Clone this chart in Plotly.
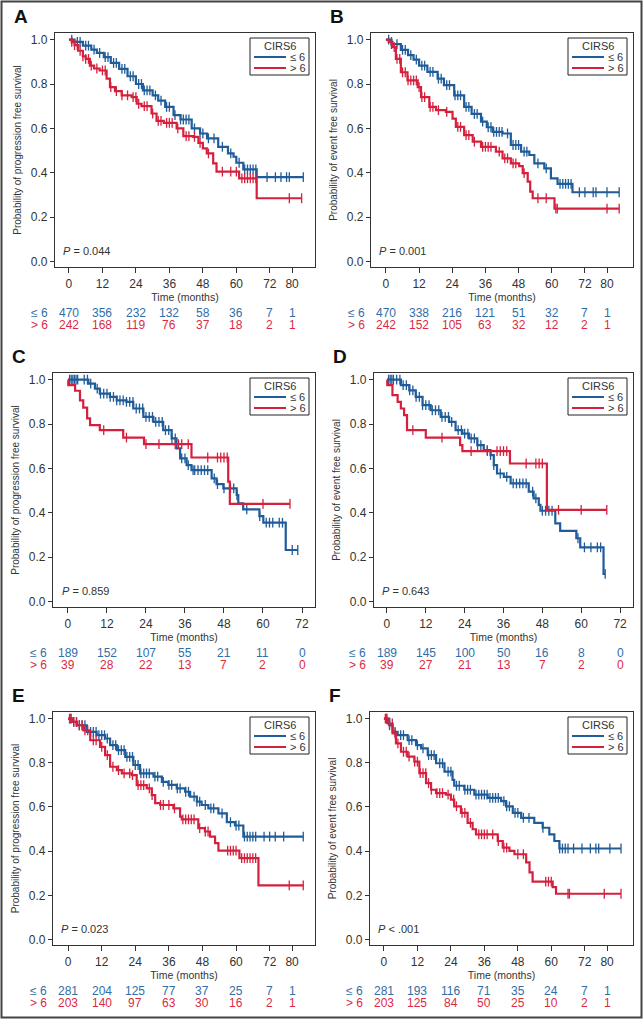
import numpy as np
import plotly.graph_objects as go

# --- data ---
ticks_long = [0, 12, 24, 36, 48, 60, 72, 80]
ticks_short = [0, 12, 24, 36, 48, 60, 72]
groups = ["\u2264 6", "> 6"]

# A: progression free survival, all patients
a_low_t = [0, 2, 5, 8, 10, 12.5, 15, 18, 21, 24, 26.5, 30, 32, 34.5, 37.5, 40, 44, 47, 49.5, 53.5, 57, 59, 60, 62.5, 67.3, 84]
a_low_s = [1.0, 0.99, 0.973, 0.955, 0.94, 0.921, 0.895, 0.868, 0.835, 0.80, 0.771, 0.749, 0.725, 0.697, 0.66, 0.64, 0.60, 0.577, 0.555, 0.517, 0.487, 0.472, 0.445, 0.415, 0.38, 0.38]
a_low_c = [1, 3, 4, 6, 7, 9, 11, 13, 14, 16, 17, 19, 20, 22, 23, 25, 26, 27, 28, 29, 31, 33, 35, 36, 38, 40, 41, 42, 43, 45, 47, 48, 50, 52, 55, 58, 61, 63, 64, 65, 66, 67, 71, 74, 76, 78, 79, 84]
a_high_t = [0, 1, 2, 3.3, 5, 6, 7.5, 9, 11, 13.5, 14.7, 16.5, 18.9, 22.5, 24.3, 26, 29.6, 31.4, 34, 38.6, 41, 44.6, 46.4, 48, 49.4, 51.7, 52.9, 61, 67.3, 83.4]
a_high_s = [1.0, 0.99, 0.975, 0.95, 0.925, 0.913, 0.883, 0.87, 0.861, 0.824, 0.786, 0.768, 0.749, 0.741, 0.711, 0.70, 0.667, 0.634, 0.625, 0.60, 0.565, 0.562, 0.535, 0.51, 0.487, 0.442, 0.405, 0.375, 0.285, 0.285]
a_high_c = [1, 2, 3, 4, 5, 6, 7, 8, 10, 12, 13, 15, 17, 19, 21, 23, 24, 25, 27, 28, 30, 32, 33, 35, 36, 37, 39, 42, 43, 45, 47, 50, 55, 58, 60, 62, 63, 64, 65, 66, 67, 79, 83.4]
a_risk_low = [470, 356, 232, 132, 58, 36, 7, 1]
a_risk_high = [242, 168, 119, 76, 37, 18, 2, 1]

# B: event free survival, all patients
b_low_t = [0, 2, 5.4, 8, 10, 12, 15, 18.7, 21, 24.7, 28.3, 31, 34.4, 36.5, 38.6, 42.2, 45.2, 48.9, 51.9, 53.7, 57.3, 59.7, 62.1, 67.5, 84.4]
b_low_s = [1.0, 0.98, 0.954, 0.93, 0.91, 0.883, 0.855, 0.824, 0.795, 0.749, 0.697, 0.665, 0.63, 0.605, 0.584, 0.577, 0.525, 0.495, 0.48, 0.442, 0.42, 0.375, 0.35, 0.312, 0.312]
b_low_c = [1, 2, 4, 6, 7, 9, 11, 13, 14, 16, 17, 19, 20, 22, 23, 25, 26, 27, 29, 30, 32, 33, 35, 37, 38, 39, 40, 41, 42, 44, 46, 47, 48, 50, 51, 55, 58, 63, 64, 65, 66, 67, 70, 72, 75, 76, 80, 84.4]
b_high_t = [0, 1, 2.4, 3.6, 5.4, 7.8, 11.5, 12.7, 15.7, 18.1, 21.7, 24.1, 25.3, 28.3, 31.4, 34.4, 39.8, 42.2, 45.2, 48.2, 49.5, 51.3, 52.2, 53.1, 61, 84.4]
b_high_s = [1.0, 0.99, 0.966, 0.913, 0.853, 0.816, 0.786, 0.741, 0.697, 0.682, 0.674, 0.644, 0.607, 0.57, 0.54, 0.517, 0.495, 0.465, 0.442, 0.43, 0.398, 0.36, 0.315, 0.285, 0.238, 0.238]
b_high_c = [2, 3, 4, 5, 6, 7, 8, 9, 10, 11, 12, 13, 14, 16, 17, 19, 22, 26, 27, 29, 30, 32, 35, 36, 37, 38, 41, 43, 44, 46, 47, 50, 55, 58, 61.5, 62, 80, 84.4]
b_risk_low = [470, 338, 216, 121, 51, 32, 7, 1]
b_risk_high = [242, 152, 105, 63, 32, 12, 2, 1]

# C: progression free survival, subgroup
c_low_t = [0, 6.3, 8.3, 9.8, 12.9, 15, 18, 20.1, 23.2, 26.3, 29.3, 31.9, 33.4, 34.5, 36.5, 38, 44.2, 45.7, 47.8, 51.9, 52.4, 53.9, 58.9, 60.1, 67, 70.7]
c_low_s = [1.0, 0.982, 0.96, 0.937, 0.922, 0.907, 0.9, 0.87, 0.832, 0.81, 0.772, 0.735, 0.69, 0.645, 0.615, 0.592, 0.555, 0.529, 0.51, 0.48, 0.442, 0.415, 0.385, 0.355, 0.232, 0.232]
c_low_c = [0.5, 1, 1.5, 2, 2.5, 3, 5, 6, 7, 9, 10, 11, 12, 13, 14, 15, 16, 17, 18, 19, 20, 21, 22, 23, 24, 25, 26, 27, 28, 29, 30, 31, 32, 33, 35, 36, 37, 38.5, 39, 40, 41, 42, 43, 45, 46, 48, 50, 51, 52, 55, 59, 61, 62, 63, 65, 66, 69, 70.7]
c_high_t = [0, 0.1, 2.2, 3.7, 4.7, 5.9, 6.8, 9.8, 17, 23.4, 38, 49.3, 49.8, 68.3]
c_high_s = [1.0, 0.975, 0.95, 0.907, 0.874, 0.825, 0.795, 0.772, 0.739, 0.709, 0.649, 0.54, 0.44, 0.44]
c_high_c = [11, 18, 24, 28, 33, 34, 35, 37, 43, 46, 47, 48, 49, 60, 68.3]
c_risk_low = [189, 152, 107, 55, 21, 11, 0]
c_risk_high = [39, 28, 22, 13, 7, 2, 0]

# D: event free survival, subgroup
d_low_t = [0, 4.3, 6.9, 8.9, 11, 13.5, 16.6, 19.2, 21.2, 23.3, 25.3, 27.9, 29.9, 32, 33, 34, 36.1, 38.2, 43.8, 45.3, 46.9, 47.4, 52, 53.5, 58.5, 59.7, 66.9, 67.4]
d_low_s = [1.0, 0.975, 0.952, 0.922, 0.885, 0.862, 0.832, 0.81, 0.772, 0.757, 0.735, 0.705, 0.682, 0.66, 0.615, 0.577, 0.562, 0.532, 0.495, 0.465, 0.435, 0.409, 0.352, 0.318, 0.285, 0.244, 0.124, 0.124]
d_low_c = [0.5, 1, 1.5, 2, 3, 4, 5, 6, 7, 8, 9, 10, 11, 12, 13, 14, 15, 16, 17, 18, 19, 20, 22, 23, 24, 25, 26, 27, 28, 29, 31, 32, 33, 35, 37, 39, 40, 41, 42, 43, 45, 46, 48, 49, 50, 51, 59, 61, 63, 65, 66, 67.4]
d_high_t = [0, 0.1, 1.7, 3.3, 4.3, 5.3, 6.2, 12, 22.6, 23.3, 38, 49.4, 67.9]
d_high_s = [1.0, 0.975, 0.93, 0.9, 0.87, 0.84, 0.772, 0.739, 0.705, 0.678, 0.622, 0.413, 0.413]
d_high_c = [8, 17, 26, 31, 34, 35, 36, 37, 43, 46, 47, 48, 53, 60, 67.9]
d_risk_low = [189, 145, 100, 50, 16, 8, 0]
d_risk_high = [39, 27, 21, 13, 7, 2, 0]

# E: progression free survival, second cohort
e_low_t = [0, 1.5, 3.1, 6.7, 10.2, 13.2, 15, 17.4, 20.4, 23.3, 25.7, 30.5, 33.5, 35.8, 38.8, 41.8, 43.6, 46, 47.7, 50.1, 53.7, 56.7, 59.6, 62.6, 84]
e_low_s = [1.0, 0.985, 0.97, 0.94, 0.925, 0.91, 0.88, 0.857, 0.827, 0.79, 0.752, 0.737, 0.714, 0.70, 0.684, 0.669, 0.647, 0.624, 0.609, 0.594, 0.571, 0.531, 0.516, 0.466, 0.466]
e_low_c = [1, 2, 3, 4, 5, 6, 8, 9, 10, 11, 12, 13, 14, 16, 17, 18, 19, 20, 21, 22, 23, 24, 25, 26, 27, 28, 29, 31, 32, 34, 36, 37, 39, 40, 42, 43, 45, 46, 47, 49, 51, 52, 55, 58, 60, 61, 63, 64, 65, 66, 67, 70, 72, 74, 77, 84]
e_high_t = [0, 1.5, 3.1, 5.5, 7.9, 11.4, 13.2, 15, 17.4, 19.2, 22.7, 24.5, 28.1, 29.9, 31.1, 32.9, 37.6, 40, 40.6, 46.5, 48.9, 50.7, 52.5, 53.7, 61.2, 68, 84]
e_high_s = [1.0, 0.985, 0.97, 0.947, 0.902, 0.872, 0.835, 0.782, 0.767, 0.752, 0.744, 0.699, 0.684, 0.654, 0.617, 0.609, 0.594, 0.556, 0.544, 0.504, 0.489, 0.466, 0.436, 0.402, 0.368, 0.245, 0.245]
e_high_c = [0.5, 1, 2, 3, 4, 5, 6, 7, 9, 10, 12, 14, 16, 18, 20, 22, 23, 25, 26, 27, 29, 30, 33, 34, 36, 38, 41, 42, 43, 44, 45, 47, 49, 50, 57, 58, 59, 60, 62, 63, 64, 65, 66, 67, 79, 84]
e_risk_low = [281, 204, 125, 77, 37, 25, 7, 1]
e_risk_high = [203, 140, 97, 63, 30, 16, 2, 1]

# F: event free survival, second cohort
f_low_t = [0, 1.9, 3.1, 4.9, 8.5, 11.5, 13.3, 15.7, 18.7, 21.7, 24.6, 25.2, 28.8, 32.4, 37.2, 42, 43.8, 46.2, 49.2, 53.9, 56.9, 59.3, 61.1, 62.9, 85]
f_low_s = [1.0, 0.97, 0.94, 0.925, 0.903, 0.88, 0.865, 0.835, 0.798, 0.76, 0.723, 0.696, 0.678, 0.656, 0.641, 0.626, 0.603, 0.573, 0.551, 0.528, 0.506, 0.476, 0.446, 0.412, 0.412]
f_low_c = [1, 2, 4, 6, 7, 9, 10, 12, 14, 16, 17, 18, 20, 21, 23, 24, 26, 27, 29, 30, 31, 33, 34, 35, 36, 37, 38, 39, 40, 41, 43, 44, 45, 47, 48, 50, 52, 57, 63, 64, 65, 66, 68, 71, 74, 76, 77, 81, 85]
f_high_t = [0, 1.3, 3.1, 4.3, 6.1, 8.5, 10.9, 12.7, 15.1, 16.9, 18.7, 22.2, 24, 25.2, 27.6, 30, 31.8, 33, 40.8, 42.6, 45, 46.8, 51, 52.2, 53.3, 60.5, 61.7, 85]
f_high_s = [1.0, 0.978, 0.933, 0.888, 0.85, 0.828, 0.805, 0.753, 0.708, 0.678, 0.663, 0.656, 0.633, 0.603, 0.573, 0.528, 0.499, 0.476, 0.446, 0.416, 0.401, 0.386, 0.349, 0.304, 0.262, 0.237, 0.207, 0.207]
f_high_c = [0.5, 1, 2, 3, 4, 5, 7, 8, 9, 11, 12, 13, 14, 15, 16, 17, 19, 20, 21, 23, 25, 26, 28, 29, 31, 34, 35, 36, 37, 39, 41, 43, 44, 48, 50, 58, 59, 60, 66, 66.5, 79, 85]
f_risk_low = [281, 193, 116, 71, 35, 24, 7, 1]
f_risk_high = [203, 125, 84, 50, 25, 10, 2, 1]

p_values = ["= 0.044", "= 0.001", "= 0.859", "= 0.643", "= 0.023", "< .001"]
pfs_title = "Probability of progression free survival"
efs_title = "Probability of event free survival"

# --- styling / layout ---
W, H = 643, 1019
BLUE = "#1f5c99"
RED = "#d5203d"
BLUE_TXT = "#2f6ea8"
RED_TXT = "#dc2a45"
AX = "#333333"
FONT = "Liberation Sans, Arial, sans-serif"


def px_x(p):
    return p / W


def px_y(p):
    return 1 - p / H


def surv_at(times, surv, t):
    i = np.searchsorted(times, t, side="right") - 1
    return surv[i]


# panel boxes in pixels: left, right, top, bottom, x range, pixel of t=0
panels = [
    dict(letter="A", left=55, right=315, top=33, bottom=267, xr=[-5.0, 88.2], x0=69, ticks=ticks_long,
         low=(a_low_t, a_low_s, a_low_c), high=(a_high_t, a_high_s, a_high_c),
         risk=(a_risk_low, a_risk_high), ytitle=pfs_title, p=p_values[0]),
    dict(letter="B", left=371, right=633, top=33, bottom=267, xr=[-5.4, 89.4], x0=386, ticks=ticks_long,
         low=(b_low_t, b_low_s, b_low_c), high=(b_high_t, b_high_s, b_high_c),
         risk=(b_risk_low, b_risk_high), ytitle=efs_title, p=p_values[1]),
    dict(letter="C", left=53, right=315, top=373, bottom=607, xr=[-4.6, 76.0], x0=68, ticks=ticks_short,
         low=(c_low_t, c_low_s, c_low_c), high=(c_high_t, c_high_s, c_high_c),
         risk=(c_risk_low, c_risk_high), ytitle=pfs_title, p=p_values[2]),
    dict(letter="D", left=374, right=633, top=373, bottom=607, xr=[-4.0, 76.0], x0=387, ticks=ticks_short,
         low=(d_low_t, d_low_s, d_low_c), high=(d_high_t, d_high_s, d_high_c),
         risk=(d_risk_low, d_risk_high), ytitle=efs_title, p=p_values[3]),
    dict(letter="E", left=53, right=315, top=712, bottom=945, xr=[-5.4, 88.2], x0=68, ticks=ticks_long,
         low=(e_low_t, e_low_s, e_low_c), high=(e_high_t, e_high_s, e_high_c),
         risk=(e_risk_low, e_risk_high), ytitle=pfs_title, p=p_values[4]),
    dict(letter="F", left=370, right=633, top=712, bottom=945, xr=[-5.0, 89.3], x0=384, ticks=ticks_long,
         low=(f_low_t, f_low_s, f_low_c), high=(f_high_t, f_high_s, f_high_c),
         risk=(f_risk_low, f_risk_high), ytitle=efs_title, p=p_values[5]),
]

fig = go.Figure()
annotations = []
shapes = []
layout = {}

for k, pn in enumerate(panels, start=1):
    sfx = "" if k == 1 else str(k)
    xa, ya = "x" + sfx, "y" + sfx

    for (t, s, cens), color, name in [(pn["low"], BLUE, groups[0]), (pn["high"], RED, groups[1])]:
        fig.add_trace(go.Scatter(x=t, y=s, mode="lines", line=dict(color=color, width=2.2, shape="hv"),
                                 name=name, xaxis=xa, yaxis=ya, showlegend=False, hoverinfo="skip"))
        cy = [surv_at(np.array(t), np.array(s), c) for c in cens]
        fig.add_trace(go.Scatter(x=cens, y=cy, mode="markers", xaxis=xa, yaxis=ya, showlegend=False,
                                 marker=dict(symbol="line-ns-open", size=7, color=color,
                                             line=dict(color=color, width=1.3)),
                                 hoverinfo="skip"))

    layout["xaxis" + sfx] = dict(
        domain=[px_x(pn["left"]), px_x(pn["right"])], anchor=ya, range=pn["xr"],
        tickvals=pn["ticks"], ticks="outside", ticklen=5, tickwidth=1, tickcolor=AX,
        showline=True, linecolor=AX, linewidth=1.3, mirror=True, showgrid=False, zeroline=False,
        tickfont=dict(size=12, color=AX, family=FONT),
        title=dict(text="Time (months)", standoff=4, font=dict(size=10.5, color=AX, family=FONT)))
    layout["yaxis" + sfx] = dict(
        domain=[px_y(pn["bottom"]), px_y(pn["top"])], anchor=xa, range=[-0.025, 1.03],
        tickvals=[0, 0.2, 0.4, 0.6, 0.8, 1.0], tickformat=".1f", ticks="outside", ticklen=4,
        tickwidth=1, tickcolor=AX, showline=True, linecolor=AX, linewidth=1.3, mirror=True,
        showgrid=False, zeroline=False, tickfont=dict(size=12, color=AX, family=FONT),
        title=dict(text=pn["ytitle"], standoff=7, font=dict(size=10, color=AX, family=FONT)))

    # legend box drawn by hand to keep it compact
    lx0, lx1 = pn["right"] - 65, pn["right"] - 6
    ly0, ly1 = pn["top"] + 5, pn["top"] + 42
    shapes.append(dict(type="rect", xref="paper", yref="paper", x0=px_x(lx0), x1=px_x(lx1),
                       y0=px_y(ly1), y1=px_y(ly0), line=dict(color="#222", width=1),
                       fillcolor="white", layer="above"))
    annotations.append(dict(text="CIRS6", xref="paper", yref="paper", x=px_x((lx0 + lx1) / 2),
                            y=px_y(ly0 + 8), xanchor="center", yanchor="middle", showarrow=False,
                            font=dict(size=11, color=AX, family=FONT)))
    for row, (color, name) in enumerate([(BLUE, groups[0]), (RED, groups[1])]):
        yy = ly0 + 19 + 11 * row
        shapes.append(dict(type="line", xref="paper", yref="paper", x0=px_x(lx0 + 4), x1=px_x(lx0 + 36),
                           y0=px_y(yy), y1=px_y(yy), line=dict(color=color, width=2), layer="above"))
        annotations.append(dict(text=name, xref="paper", yref="paper", x=px_x(lx0 + 38), y=px_y(yy),
                                xanchor="left", yanchor="middle", showarrow=False,
                                font=dict(size=11, color=AX, family=FONT)))

    # panel letter
    annotations.append(dict(text="<b>%s</b>" % pn["letter"], xref="paper", yref="paper",
                            x=px_x(pn["left"] - 43), y=px_y(pn["top"] - 17), xanchor="left",
                            yanchor="middle", showarrow=False,
                            font=dict(size=19, color="#111", family=FONT)))
    # p value
    annotations.append(dict(text="<i>P</i> %s" % pn["p"], xref="x" + sfx, yref="y" + sfx,
                            x=pn["xr"][0] + 2.0, y=0.012, xanchor="left", yanchor="bottom",
                            showarrow=False, font=dict(size=11, color=AX, family=FONT)))
    # numbers at risk
    row_y = [pn["bottom"] + 46, pn["bottom"] + 58]
    for row, (vals, col) in enumerate(zip(pn["risk"], [BLUE_TXT, RED_TXT])):
        annotations.append(dict(text=groups[row], xref="paper", yref="paper",
                                x=px_x(pn["x0"] - 30), y=px_y(row_y[row]), xanchor="center",
                                yanchor="middle", showarrow=False,
                                font=dict(size=12, color=col, family=FONT)))
        for tv, v in zip(pn["ticks"], vals):
            annotations.append(dict(text=str(v), xref="x" + sfx, yref="paper", x=tv,
                                    y=px_y(row_y[row]), xanchor="center", yanchor="middle",
                                    showarrow=False, font=dict(size=12, color=col, family=FONT)))

shapes.append(dict(type="rect", xref="paper", yref="paper", x0=px_x(1.5), x1=px_x(641.5),
                   y0=px_y(1017.5), y1=px_y(1.5), line=dict(color="#444", width=2)))

fig.update_layout(
    width=W, height=H, margin=dict(l=0, r=0, t=0, b=0, autoexpand=False),
    paper_bgcolor="white", plot_bgcolor="white",
    font=dict(family=FONT, color=AX),
    annotations=annotations,
    shapes=shapes,
    **layout,
)

fig.write_html("out.html", config={"displayModeBar": False},
               post_script="document.body.style.margin='0';document.body.style.overflow='hidden';")
